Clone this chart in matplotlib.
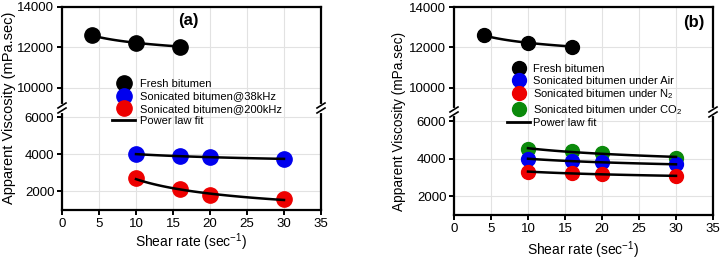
import numpy as np
import matplotlib
matplotlib.use("Agg")
from matplotlib import pyplot as plt
from matplotlib.lines import Line2D

plt.rcParams['font.family'] = ['Liberation Sans', 'DejaVu Sans']
plt.rcParams['mathtext.fontset'] = 'custom'
plt.rcParams['mathtext.rm'] = 'Liberation Sans'
plt.rcParams['mathtext.it'] = 'Liberation Sans:italic'
plt.rcParams['mathtext.bf'] = 'Liberation Sans:bold'

# data
fresh_x = [4, 10, 16]
fresh_y = [12600, 12230, 12040]

son_x = [10, 16, 20, 30]
a_38khz = [4000, 3930, 3840, 3750]
a_200khz = [2700, 2120, 1800, 1580]

b_air = [4000, 3880, 3820, 3700]
b_n2 = [3290, 3250, 3200, 3060]
b_co2 = [4500, 4440, 4320, 4040]

xticks = [0, 5, 10, 15, 20, 25, 30, 35]

BLUE = '#0000ee'
RED = '#ee0000'
GREEN = '#0b8a0b'

W, H = 721, 261
fig = plt.figure(figsize=(W / 100, H / 100), dpi=100)


def rect(l, r, t, b):
    return [l / W, 1 - b / H, (r - l) / W, (b - t) / H]


def powerfit(x, y):
    # power law fit y = K x^n, done in log space
    n, lk = np.polyfit(np.log(x), np.log(y), 1)
    xx = np.linspace(min(x), max(x), 50)
    return xx, np.exp(lk) * xx ** n


def style(ax, upper):
    for s in ax.spines.values():
        s.set_linewidth(1.6)
    ax.set_xlim(0, 35)
    ax.set_xticks(xticks)
    ax.grid(True, color='#e2e2e2', lw=0.8)
    ax.set_axisbelow(True)
    ax.tick_params(direction='out', length=3.5, width=1.4, labelsize=9.5, pad=2)
    if upper:
        ax.spines['bottom'].set_visible(False)
        ax.tick_params(axis='x', bottom=False, labelbottom=False)
    else:
        ax.spines['top'].set_visible(False)


def brk(l, r, y):
    # break marks on both spines
    for x in (l, r):
        fig.add_artist(Line2D([x / W, x / W], [1 - (y - 2.5) / H, 1 - (y + 2.5) / H],
                              color='white', lw=3, zorder=10))
        for dy in (-2.5, 2.5):
            fig.add_artist(Line2D([(x - 4) / W, (x + 4) / W],
                                  [1 - (y + dy + 2.5) / H, 1 - (y + dy - 2.5) / H],
                                  color='black', lw=1.2, zorder=11))


def panel(l, r, t, m, b, upper_lim, series, ms):
    up = fig.add_axes(rect(l, r, t, m))
    lo = fig.add_axes(rect(l, r, m, b))
    style(up, True)
    style(lo, False)
    up.set_ylim(*upper_lim)
    up.set_yticks([10000, 12000, 14000])
    lo.set_ylim(1000, 6500)
    lo.set_yticks([2000, 4000, 6000])
    fx, fy = powerfit(fresh_x, fresh_y)
    up.plot(fx, fy, color='black', lw=1.8, zorder=2)
    up.plot(fresh_x, fresh_y, 'o', color='black', ms=ms, zorder=3)
    for yv, c in series:
        fx, fy = powerfit(son_x, yv)
        lo.plot(son_x, yv, 'o', color=c, ms=ms, zorder=3)
        lo.plot(fx, fy, color='black', lw=1.8, zorder=4)
    brk(l, r, m)
    return up, lo


# panel (a)
panel(62, 321, 7, 108, 210, (9000, 14000),
      [(a_38khz, BLUE), (a_200khz, RED)], 11)
# panel (b)
panel(454, 713, 7, 112, 215, (8800, 14000),
      [(b_co2, GREEN), (b_air, BLUE), (b_n2, RED)], 10)

xlab = 'Shear rate (sec$^{\\mathregular{-1}}$)'
ylab = 'Apparent Viscosity (mPa.sec)'
fig.text(191.5 / W, 1 - 242 / H, xlab, ha='center', va='center', fontsize=10)
fig.text(583.5 / W, 1 - 250 / H, xlab, ha='center', va='center', fontsize=10)
fig.text(9 / W, 1 - 108 / H, ylab, rotation=90, ha='center', va='center', fontsize=10.5)
fig.text(399 / W, 1 - 121 / H, ylab, rotation=90, ha='center', va='center', fontsize=9.8)

fig.text(188 / W, 1 - 20 / H, '(a)', ha='center', va='center', fontsize=12, fontweight='bold')
fig.text(694 / W, 1 - 23 / H, '(b)', ha='center', va='center', fontsize=12, fontweight='bold')


def mk(c, ms):
    return Line2D([], [], ls='none', marker='o', color=c, ms=ms)


fitline = Line2D([], [], color='black', lw=2)

fig.legend([mk('black', 11), mk(BLUE, 11), mk(RED, 11), fitline],
           ['Fresh bitumen', 'Sonicated bitumen@38kHz', 'Sonicated bitumen@200kHz', 'Power law fit'],
           loc='upper left', bbox_to_anchor=(112 / W, 1 - 79 / H), frameon=False,
           fontsize=8, borderpad=0, borderaxespad=0, handlelength=2.1,
           handletextpad=0.45, labelspacing=0.22)

fig.legend([mk('black', 10), mk(BLUE, 10), mk(RED, 10), mk(GREEN, 10), fitline],
           ['Fresh bitumen', 'Sonicated bitumen under Air', 'Sonicated bitumen under N$_\\mathregular{2}$',
            'Sonicated bitumen under CO$_\\mathregular{2}$', 'Power law fit'],
           loc='upper left', bbox_to_anchor=(507 / W, 1 - 64 / H), frameon=False,
           fontsize=8, borderpad=0, borderaxespad=0, handlelength=2.1,
           handletextpad=0.25, labelspacing=0.15)

plt.savefig('out.png', dpi=100)
